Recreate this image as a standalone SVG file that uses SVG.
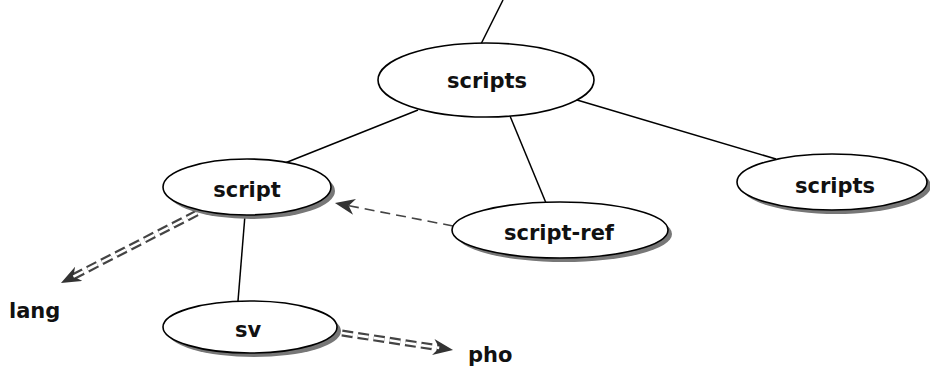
<svg xmlns="http://www.w3.org/2000/svg" width="930" height="373" viewBox="0 0 930 373">
  <style>
    .node ellipse.body { fill: #ffffff; stroke: #000000; stroke-width: 1.6; }
    .node ellipse.shadow { fill: #777777; stroke: none; }
    text { font-family: "DejaVu Sans", "Liberation Sans", sans-serif; font-weight: bold; font-size: 21px; fill: #111111; }
    .node text { text-anchor: middle; }
    .edge { stroke: #000000; stroke-width: 1.5; fill: none; }
    .ref { stroke: #444444; stroke-width: 1.6; fill: none; stroke-dasharray: 10 6; }
    .dbl-outer { stroke: #444444; stroke-width: 7; fill: none; stroke-dasharray: 11 5; }
    .dbl-inner { stroke: #ffffff; stroke-width: 2.6; fill: none; stroke-dasharray: 11 5; }
  </style>
  <defs>
    <marker id="arrow" markerUnits="userSpaceOnUse" markerWidth="22" markerHeight="18" refX="6" refY="8" orient="auto" viewBox="0 0 22 18">
      <path d="M0,0 L20,8 L0,16 L6,8 z" fill="#333333"/>
    </marker>
  </defs>
  <rect width="930" height="373" fill="#ffffff"/>

  <g id="connectors">
    <line class="edge" x1="503" y1="0" x2="481" y2="44"/>
    <line class="edge" x1="418" y1="110" x2="285" y2="163"/>
    <line class="edge" x1="510" y1="116" x2="546" y2="203"/>
    <line class="edge" x1="577" y1="100" x2="776" y2="159"/>
    <line class="edge" x1="245" y1="215" x2="238" y2="301"/>
    <line class="ref" x1="453" y1="226" x2="348.7" y2="205.7" marker-end="url(#arrow)"/>
    <line class="dbl-outer" x1="197" y1="213" x2="73.4" y2="276.6" marker-end="url(#arrow)"/>
    <line class="dbl-inner" x1="197" y1="213" x2="73.4" y2="276.6"/>
    <line class="dbl-outer" x1="342" y1="333" x2="439.2" y2="347.9" marker-end="url(#arrow)"/>
    <line class="dbl-inner" x1="342" y1="333" x2="439.2" y2="347.9"/>
  </g>

  <g id="node-scripts-top" class="node">
    <ellipse class="body" cx="486" cy="80" rx="108" ry="37"/>
    <text x="487" y="88">scripts</text>
  </g>
  <g id="node-script" class="node">
    <ellipse class="shadow" cx="251" cy="191" rx="84" ry="28"/>
    <ellipse class="body" cx="247" cy="187" rx="84" ry="28"/>
    <text x="247" y="197">script</text>
  </g>
  <g id="node-script-ref" class="node">
    <ellipse class="shadow" cx="564" cy="234" rx="108" ry="28"/>
    <ellipse class="body" cx="560" cy="230" rx="108" ry="28"/>
    <text x="559" y="240">script-ref</text>
  </g>
  <g id="node-scripts-right" class="node">
    <ellipse class="shadow" cx="836" cy="186" rx="95" ry="28"/>
    <ellipse class="body" cx="832" cy="182" rx="95" ry="28"/>
    <text x="835" y="193">scripts</text>
  </g>
  <g id="node-sv" class="node">
    <ellipse class="shadow" cx="254" cy="331" rx="87" ry="26"/>
    <ellipse class="body" cx="250" cy="327" rx="87" ry="26"/>
    <text x="248" y="337">sv</text>
  </g>
  <g id="label-lang">
    <text x="9" y="318">lang</text>
  </g>
  <g id="label-pho">
    <text x="468" y="362">pho</text>
  </g>
</svg>
